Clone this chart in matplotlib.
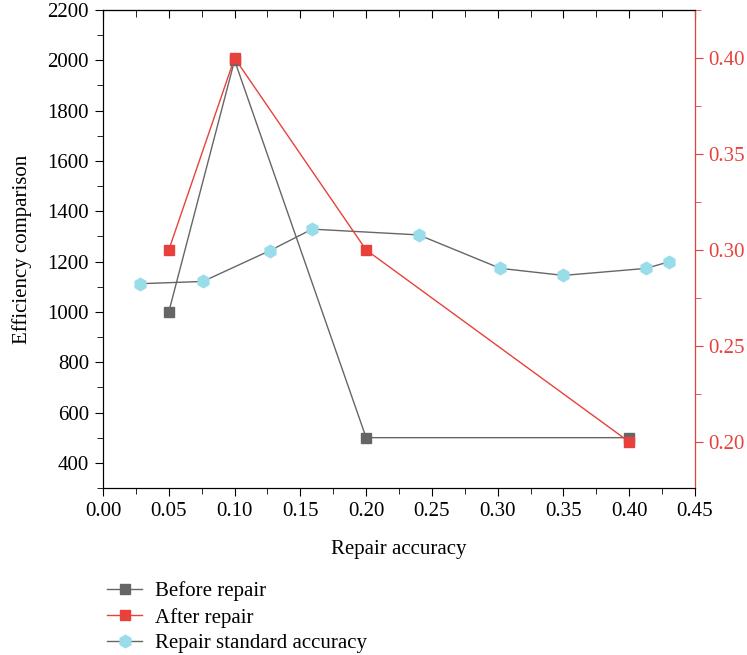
import matplotlib.pyplot as plt
from matplotlib.ticker import MultipleLocator

plt.rcParams['font.family'] = ['Liberation Serif', 'DejaVu Serif']
plt.rcParams['font.size'] = 15

# データ
x_repair = [0.05, 0.10, 0.20, 0.40]
before_repair = [1000, 2000, 500, 500]
after_repair = [0.30, 0.40, 0.30, 0.20]

x_std = [0.028, 0.076, 0.127, 0.159, 0.240, 0.302, 0.350, 0.413, 0.430]
std_accuracy = [1112, 1121, 1244, 1329, 1306, 1173, 1145, 1173, 1199]

gray = '#666666'
red = '#E8413C'
cyan = '#99DDEA'

fig = plt.figure(figsize=(7.47, 6.55), dpi=100)
ax = fig.add_axes([0.1379, 0.2550, 0.7925, 0.7297])

l3, = ax.plot(x_std, std_accuracy, color=gray, lw=1.0, marker='h', ms=9,
              mfc=cyan, mec=cyan, label='Repair standard accuracy')
l1, = ax.plot(x_repair, before_repair, color=gray, lw=1.0, marker='s', ms=7,
              mfc=gray, mec=gray, label='Before repair')

ax.set_xlim(0, 0.45)
ax.set_ylim(300, 2200)
ax.xaxis.set_major_locator(MultipleLocator(0.05))
ax.xaxis.set_minor_locator(MultipleLocator(0.025))
ax.yaxis.set_major_locator(MultipleLocator(200))
ax.yaxis.set_minor_locator(MultipleLocator(100))
ax.xaxis.set_major_formatter(lambda v, p: f'{v:.2f}')
ax.tick_params(axis='x', which='both', direction='out', top=False)
ax.tick_params(which='major', length=6, pad=4)
ax.tick_params(which='minor', length=4)
ax.set_xlabel('Repair accuracy', labelpad=14)
ax.set_ylabel('Efficiency comparison', labelpad=11)

# 上側の目盛りは内向き
sec = ax.secondary_xaxis('top')
sec.set_xticks([i * 0.05 for i in range(10)])
sec.xaxis.set_minor_locator(MultipleLocator(0.025))
sec.tick_params(which='both', direction='in', labeltop=False)
sec.tick_params(which='major', length=6)
sec.tick_params(which='minor', length=5)

ax2 = ax.twinx()
l2, = ax2.plot(x_repair, after_repair, color=red, lw=1.0, marker='s', ms=7,
               mfc=red, mec=red, label='After repair')
ax2.set_ylim(0.176, 0.425)
ax2.yaxis.set_major_locator(MultipleLocator(0.05))
ax2.yaxis.set_minor_locator(MultipleLocator(0.025))
ax2.yaxis.set_major_formatter(lambda v, p: f'{v:.2f}')
ax2.spines['right'].set_color(red)
ax2.tick_params(axis='y', which='both', colors=red)
ax2.tick_params(axis='y', which='major', length=6)
ax2.tick_params(axis='y', which='minor', length=4)

fig.legend(handles=[l1, l2, l3], loc='upper left',
           bbox_to_anchor=(0.132, 0.125), frameon=False,
           handlelength=1.7, handletextpad=0.6, labelspacing=0.3,
           borderaxespad=0)

plt.savefig('out.png', dpi=100)
